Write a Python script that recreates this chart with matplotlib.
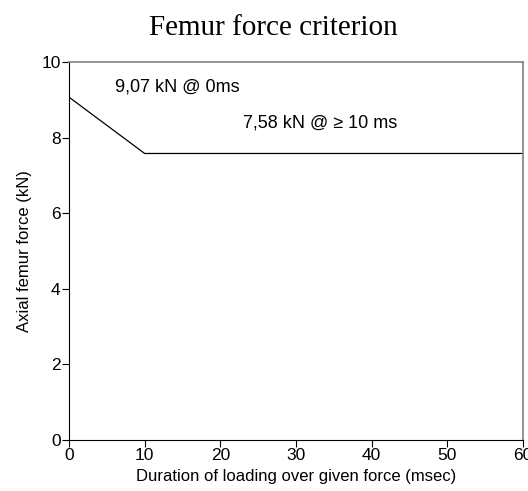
import matplotlib.pyplot as plt

# criterion curve (ms, kN)
duration = [0, 10, 60]
force = [9.07, 7.58, 7.58]

xticks = [0, 10, 20, 30, 40, 50, 60]
yticks = [0, 2, 4, 6, 8, 10]

plt.rcParams['font.family'] = ['Liberation Sans', 'DejaVu Sans']

fig = plt.figure(figsize=(5.28, 4.91), dpi=100)
ax = fig.add_axes([69/528, 1 - 440/491, (523 - 69)/528, (440 - 62)/491])

ax.plot(duration, force, color='black', lw=0.9)

ax.set_xlim(0, 60)
ax.set_ylim(0, 10)
ax.set_xticks(xticks)
ax.set_yticks(yticks)
ax.tick_params(direction='out', length=5, width=0.8, labelsize=12.5, pad=1)

for side in ['top', 'right']:
    ax.spines[side].set_color('#808080')
    ax.spines[side].set_linewidth(1.2)
for side in ['left', 'bottom']:
    ax.spines[side].set_linewidth(0.8)

ax.text(6.1, 9.34, '9,07 kN @ 0ms', fontsize=13, va='center')
ax.text(23.0, 8.39, '7,58 kN @ \u2265 10 ms', fontsize=13, va='center')

ax.set_xlabel('Duration of loading over given force (msec)', fontsize=12, labelpad=4)
ax.set_ylabel('Axial femur force (kN)', fontsize=12, labelpad=7)

fig.text(273/528, 1 - 28/491, 'Femur force criterion', fontsize=21,
         family='Liberation Serif', ha='center', va='center')

fig.savefig('out.png', dpi=100)
